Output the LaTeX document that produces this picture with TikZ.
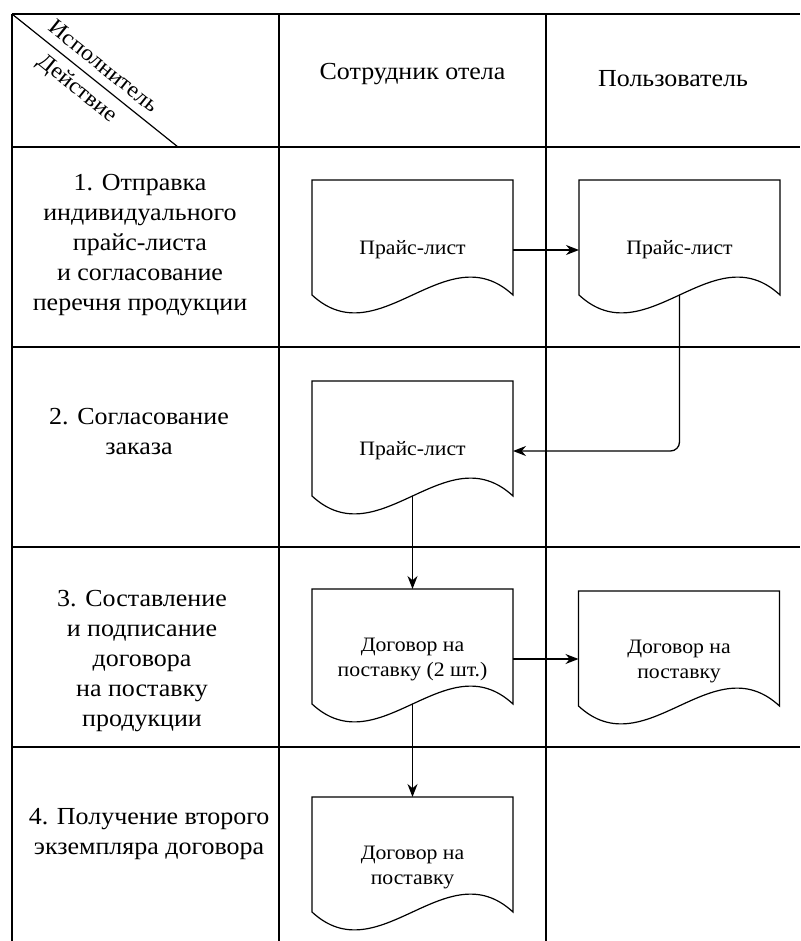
\documentclass[tikz,border=0pt]{standalone}
\usepackage{fontspec}
\setmainfont{Liberation Serif}[FakeStretch=1.06]
\usetikzlibrary{arrows.meta,calc}

% document symbol: outline drawn round a node, foot = middle of the wave
\newcommand{\docline}[1]{%
  \draw [line width=1.2pt] (#1.north west) -- (#1.north east) -- ($(#1.north east)+(0,115)$)
    .. controls ($(#1.north east)+(-67,53)$) and ($(#1.north west)+(67,177)$) .. ($(#1.north west)+(0,115)$) -- cycle;
  \coordinate (#1-foot) at ($(#1.north)+(0,115)$);}

\tikzset{
  grid/.style={line width=1.5pt},
  doc/.style={minimum width=201pt,minimum height=140pt,inner sep=2pt,outer sep=0pt,align=center,font=\fontsize{20.5}{25}\selectfont},
  step label/.style={align=center,font=\fontsize{24.5}{30}\selectfont},
  corner label/.style={rotate=-38.7,inner sep=0pt,font=\fontsize{22.5}{24}\selectfont},
  flow/.style={-{Stealth[length=13pt,width=10pt]},line width=1.3pt}
}

\begin{document}
\begin{tikzpicture}[x=1pt,y=-1pt]
\useasboundingbox (0,0) rectangle (800,941);

% table
\foreach \y in {14,147,347,547,747} \draw [grid] (12,\y) -- (800,\y);
\foreach \x in {12,279,546} \draw [grid] (\x,14) -- (\x,941);
\draw [line width=1.2pt] (12,14) -- (178,147);
\node (who0) at (104,66)[corner label] {Исполнитель};
\node (what0) at (77,89)[corner label] {Действие};

\node (who1) at (412.5,74)[step label] {Сотрудник отела};
\node (who2) at (673,79)[step label] {Пользователь};

\node (act1) at (140,245)[step label] {1. Отправка\\индивидуального\\прайс-листа\\и согласование\\перечня продукции};
\node (act2) at (139,432)[step label] {2. Согласование\\заказа};
\node (act3) at (142,661)[step label] {3. Составление\\и подписание\\договора\\на поставку\\продукции};
\node (act4) at (149,834)[step label] {4. Получение второго\\экземпляра договора};

% documents
\node (D1) at (412.5,250)[doc] {Прайс-лист};
\node (D2) at (679.5,250)[doc] {Прайс-лист};
\node (D3) at (412.5,451)[doc] {Прайс-лист};
\node (D4) at (412.5,659)[doc] {Договор на\\поставку (2 шт.)};
\node (D5) at (679,661)[doc] {Договор на\\поставку};
\node (D6) at (412.5,867)[doc] {Договор на\\поставку};
\docline{D1}
\docline{D2}
\docline{D3}
\docline{D4}
\docline{D5}
\docline{D6}

% flow
\draw [flow] (D1.east) -- (D2.west);
\draw [flow,rounded corners=9pt] (D2-foot) |- (D3.east);
\draw [flow] (D3-foot) -- (D4.north);
\draw [flow] (D4.east) -- (D4.east -| D5.west);
\draw [flow] (D4-foot) -- (D6.north);
\end{tikzpicture}
\end{document}
